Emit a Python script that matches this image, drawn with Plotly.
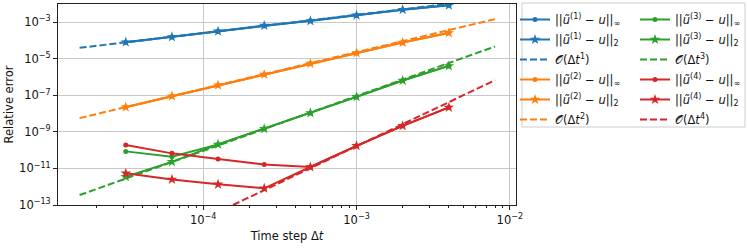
import plotly.graph_objects as go

# ---------------- data ----------------
dt = [3.125e-5, 6.25e-5, 1.25e-4, 2.5e-4, 5e-4, 1e-3, 2e-3, 4e-3]

err1_inf = [8.0e-5, 1.58e-4, 3.2e-4, 6.5e-4, 1.2e-3, 2.4e-3, 4.9e-3, 8.6e-3]
err1_l2 = [8.1e-5, 1.57e-4, 3.22e-4, 6.6e-4, 1.18e-3, 2.4e-3, 4.9e-3, 8.5e-3]

err2_inf = [2.3e-8, 9.0e-8, 3.6e-7, 1.4e-6, 5.5e-6, 2.1e-5, 7.9e-5, 2.65e-4]
err2_l2 = [2.26e-8, 9.0e-8, 3.6e-7, 1.39e-6, 5.5e-6, 2.1e-5, 7.8e-5, 2.6e-4]

err3_inf = [8.6e-11, 4.4e-11, 2.07e-10, 1.48e-9, 1.1e-8, 8.3e-8, 6.5e-7, 4.1e-6]
err3_l2 = [3.5e-12, 2.3e-11, 2.07e-10, 1.48e-9, 1.1e-8, 8.3e-8, 6.5e-7, 4.1e-6]

err4_inf = [1.9e-10, 6.7e-11, 3.3e-11, 1.67e-11, 1.2e-11, 1.74e-10, 2.15e-9, 2.2e-8]
err4_l2 = [5.4e-12, 2.5e-12, 1.35e-12, 8.2e-13, 1.2e-11, 1.74e-10, 2.15e-9, 2.2e-8]

# reference slope lines O(dt^k): values at the two ends of their span
ref_dt = [1.5625e-5, 8e-3]
ref1 = [4.0e-5, 2.05e-2]
ref2 = [5.7e-9, 1.49e-3]
ref3 = [3.5e-13, 4.7e-5]
ref4 = [9.9e-18, 6.8e-7]

x_ticks = [1e-4, 1e-3, 1e-2]
x_ticktext = ["10<sup>−4</sup>", "10<sup>−3</sup>", "10<sup>−2</sup>"]
x_minor = [m * 10.0 ** e for e in (-5, -4, -3) for m in range(2, 10)]
y_ticks = [1e-13, 1e-11, 1e-9, 1e-7, 1e-5, 1e-3]
y_ticktext = ["10<sup>−13</sup>", "10<sup>−11</sup>", "10<sup>−9</sup>",
              "10<sup>−7</sup>", "10<sup>−5</sup>", "10<sup>−3</sup>"]

colors = ["#1f77b4", "#ff7f0e", "#2ca02c", "#d62728"]
series = [
    (err1_inf, err1_l2, ref1, "1"),
    (err2_inf, err2_l2, ref2, "2"),
    (err3_inf, err3_l2, ref3, "3"),
    (err4_inf, err4_l2, ref4, "4"),
]

FONT = "DejaVu Sans"
LW = 2
fig = go.Figure()

for i, (einf, el2, ref, k) in enumerate(series):
    c = colors[i]
    leg = "legend" if i < 2 else "legend2"
    fig.add_trace(go.Scatter(
        x=dt, y=einf, mode="lines+markers",
        line=dict(color=c, width=LW),
        marker=dict(symbol="circle", size=5, color=c),
        name=f"||<i>ũ</i><sup>({k})</sup> − <i>u</i>||<sub>∞</sub>",
        legend=leg, legendgroup=f"a{k}"))
    fig.add_trace(go.Scatter(
        x=dt, y=el2, mode="lines+markers",
        line=dict(color=c, width=LW),
        marker=dict(symbol="star", size=8, color=c, line=dict(width=0)),
        name=f"||<i>ũ</i><sup>({k})</sup> − <i>u</i>||<sub>2</sub>",
        legend=leg, legendgroup=f"b{k}"))
    fig.add_trace(go.Scatter(
        x=ref_dt, y=ref, mode="lines",
        line=dict(color=c, width=LW, dash="7px,3px"),
        name=f"𝒪(Δ<i>t</i><sup>{k}</sup>)",
        legend=leg, legendgroup=f"c{k}"))

L, R, T, B = 58, 231, 4, 44
W, H = 747, 249
pw, ph = W - L - R, H - T - B


def px_x(p):
    return (p - L) / pw


def px_y(p):
    return (H - B - p) / ph


axis_common = dict(
    type="log", showline=True, mirror=True, linecolor="#222", linewidth=1,
    ticks="outside", ticklen=4, tickwidth=1, tickcolor="#222",
    showgrid=True, gridcolor="#c8c8c8", gridwidth=1, zeroline=False,
    tickfont=dict(family=FONT, size=11.5, color="#111"),
)

legend_common = dict(xanchor="left", yanchor="top", bgcolor="rgba(0,0,0,0)",
                     font=dict(family=FONT, size=11.5), tracegroupgap=1,
                     itemwidth=30, maxheight=240)

fig.update_layout(
    width=W, height=H,
    margin=dict(l=L, r=R, t=T, b=B, autoexpand=False),
    paper_bgcolor="white", plot_bgcolor="white",
    font=dict(family=FONT, size=11.5, color="#111"),
    xaxis=dict(
        **axis_common, range=[-4.947, -1.96],
        tickmode="array", tickvals=x_ticks, ticktext=x_ticktext,
        minor=dict(tickvals=x_minor, ticks="outside", ticklen=2,
                   tickwidth=0.8, tickcolor="#222", showgrid=False),
        title=dict(text="Time step Δ<i>t</i>", standoff=6,
                   font=dict(family=FONT, size=11.5)),
    ),
    yaxis=dict(
        **axis_common, range=[-13, -2],
        tickmode="array", tickvals=y_ticks, ticktext=y_ticktext,
        title=dict(text="Relative error", standoff=3,
                   font=dict(family=FONT, size=11.5)),
    ),
    legend=dict(x=px_x(515), y=px_y(5), **legend_common),
    legend2=dict(x=px_x(635), y=px_y(5), **legend_common),
    shapes=[dict(type="rect", xref="paper", yref="paper",
                 x0=px_x(522), x1=px_x(745), y0=px_y(127), y1=px_y(3),
                 line=dict(color="#cccccc", width=1),
                 fillcolor="rgba(0,0,0,0)", layer="above")],
    showlegend=True,
)

fig.write_html("out.html",
               config={"displayModeBar": False},
               post_script="document.body.style.margin='0';"
                           "document.body.style.overflow='hidden';")
